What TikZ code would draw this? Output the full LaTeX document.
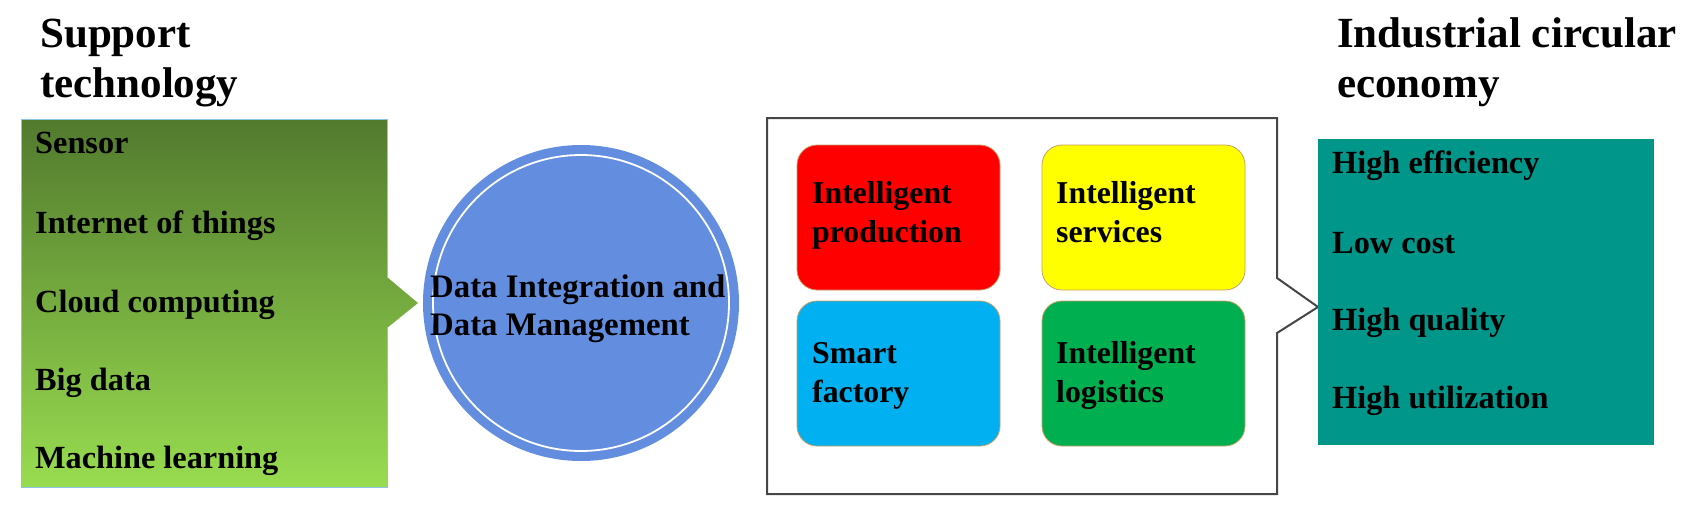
\documentclass[tikz,border=0pt]{standalone}
\usepackage{fontspec}
\setmainfont{Liberation Serif}
\definecolor{gtop}{RGB}{82,122,46}
\definecolor{gbot}{RGB}{152,220,80}
\definecolor{gborder}{RGB}{140,195,230}
\definecolor{circ}{RGB}{99,142,224}
\definecolor{tealbox}{RGB}{0,150,138}
\definecolor{rbox}{RGB}{255,0,0}
\definecolor{ybox}{RGB}{255,255,0}
\definecolor{bbox}{RGB}{0,176,240}
\definecolor{lbox}{RGB}{0,176,80}
\definecolor{boxedge}{RGB}{200,160,100}
\definecolor{framec}{RGB}{70,70,70}
\begin{document}
\begin{tikzpicture}[x=1pt,y=-1pt,
  item/.style={anchor=base west, inner sep=0pt, font=\bfseries\fontsize{32.3}{38}\selectfont},
  head/.style={anchor=base west, inner sep=0pt, font=\bfseries\fontsize{43}{50}\selectfont},
  tile/.style={draw=boxedge, line width=0.8pt, rounded corners=20pt, minimum width=203pt, minimum height=145pt, inner sep=0pt},
  tiletext/.style={anchor=base west, inner sep=0pt, font=\bfseries\fontsize{31.8}{39}\selectfont},
  frameline/.style={draw=framec, line width=2pt, line join=miter}]
\useasboundingbox (0,0) rectangle (1692,512);
% headers
\node[head] (hleft) at (40,47) {\begin{tabular}[t]{@{}l@{}}Support\\technology\end{tabular}};
\node[head] (hright) at (1337,47) {\begin{tabular}[t]{@{}l@{}}Industrial circular\\economy\end{tabular}};
% support technology box with pointer
\shade[top color=gtop, bottom color=gbot] (21,119) -- (387,119) -- (387,277) -- (418,303) -- (387,328) -- (387,487) -- (21,487) -- cycle;
\draw[gborder, line width=1pt] (387,277) -- (387,119) -- (21,119) -- (21,487) -- (387,487) -- (387,328);
\coordinate (tip) at (418,303);
\node[item] (s1) at (35,153) {Sensor};
\node[item] (s2) at (35,233) {Internet of things};
\node[item] (s3) at (35,312) {Cloud computing};
\node[item] (s4) at (35,390) {Big data};
\node[item] (s5) at (35,468) {Machine learning};
% circle
\node[circle, fill=circ, minimum size=316pt, inner sep=0pt] (dim) at (581,303) {};
\draw[white, line width=1.8pt] (dim.center) circle[radius=148pt];
\node[item, font=\bfseries\fontsize{32.8}{38}\selectfont] (dimT) at (430,297) {\begin{tabular}[t]{@{}l@{}}Data Integration and\\Data Management\end{tabular}};
% middle frame with pointer
\draw[frameline] (767,118) -- (1277,118) -- (1277,278) -- (1318,307) -- (1277,333) -- (1277,494) -- (767,494) -- cycle;
\node[tile, fill=rbox] (prod) at (898.5,217.5) {};
\node[tile, fill=ybox] (serv) at (1143.5,217.5) {};
\node[tile, fill=bbox] (fact) at (898.5,373.5) {};
\node[tile, fill=lbox] (logi) at (1143.5,373.5) {};
\node[tiletext] (prodT) at (812,203) {\begin{tabular}[t]{@{}l@{}}Intelligent\\production\end{tabular}};
\node[tiletext] (servT) at (1056,203) {\begin{tabular}[t]{@{}l@{}}Intelligent\\services\end{tabular}};
\node[tiletext] (factT) at (812,363) {\begin{tabular}[t]{@{}l@{}}Smart\\factory\end{tabular}};
\node[tiletext] (logiT) at (1056,363) {\begin{tabular}[t]{@{}l@{}}Intelligent\\logistics\end{tabular}};
% economy box
\node[fill=tealbox, minimum width=336pt, minimum height=306pt, inner sep=0pt, anchor=north west] (eco) at (1318,139) {};
\node[item] (e1) at (1332,173) {High efficiency};
\node[item] (e2) at (1332,253) {Low cost};
\node[item] (e3) at (1332,330) {High quality};
\node[item] (e4) at (1332,408) {High utilization};
\end{tikzpicture}
\end{document}
